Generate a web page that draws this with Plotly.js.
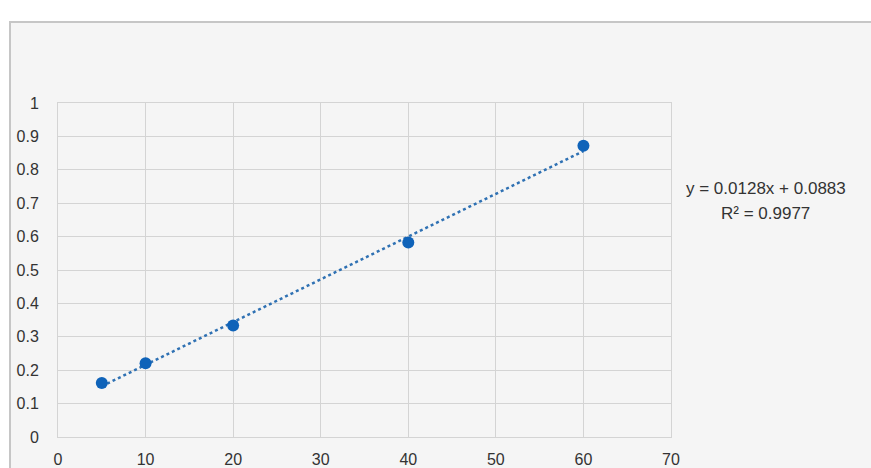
<!DOCTYPE html>
<html>
<head>
<meta charset="utf-8">
<script src="https://cdn.plot.ly/plotly-3.0.1.min.js"></script>
<style>
  html, body { margin: 0; padding: 0; background: #ffffff; overflow: hidden; }
  #frame { position: absolute; left: 9px; top: 21px; width: 860px; height: 445px;
           border-left: 2px solid #c6c6c6; border-top: 2px solid #c6c6c6; background: #f5f5f5; }
  #chart { width: 860px; height: 445px; }
</style>
</head>
<body>
<div id="frame"><div id="chart"></div></div>
<script>
// Data
const concentration = [5, 10, 20, 40, 60];
const absorbance = [0.162, 0.221, 0.334, 0.582, 0.872];
const trendX = [5, 60];
const trendY = [0.152, 0.856];
const xTicks = [0, 10, 20, 30, 40, 50, 60, 70];
const yTicks = [0, 0.1, 0.2, 0.3, 0.4, 0.5, 0.6, 0.7, 0.8, 0.9, 1];
const equationText = "y = 0.0128x + 0.0883";
const r2Text = "R² = 0.9977";

const gridColor = "#d4d4d4";
const textColor = "#333333";
const fontFamily = "Liberation Sans, Arial, sans-serif";

const traces = [
  {
    x: trendX, y: trendY, type: "scatter", mode: "lines",
    line: { color: "#2f71b3", width: 2.5, dash: "dot" },
    hoverinfo: "skip", showlegend: false
  },
  {
    x: concentration, y: absorbance, type: "scatter", mode: "markers",
    marker: { color: "#0f63b9", size: 12 },
    showlegend: false
  }
];

const layout = {
  width: 860, height: 445,
  margin: { l: 47, r: 200, t: 80, b: 31 },
  paper_bgcolor: "rgba(0,0,0,0)",
  plot_bgcolor: "#f5f5f5",
  font: { family: fontFamily, size: 16, color: textColor },
  showlegend: false,
  xaxis: {
    range: [0, 70], tickvals: xTicks, ticktext: xTicks.map(String),
    showgrid: true, gridcolor: gridColor, gridwidth: 1,
    zeroline: false, showline: true, mirror: true, linecolor: gridColor, linewidth: 1,
    ticks: "outside", ticklen: 8, tickcolor: "rgba(0,0,0,0)",
    tickfont: { family: fontFamily, size: 16, color: textColor }
  },
  yaxis: {
    range: [0, 1], tickvals: yTicks, ticktext: yTicks.map(String),
    showgrid: true, gridcolor: gridColor, gridwidth: 1,
    zeroline: false, showline: true, mirror: true, linecolor: gridColor, linewidth: 1,
    ticks: "outside", ticklen: 15, tickcolor: "rgba(0,0,0,0)",
    tickfont: { family: fontFamily, size: 16, color: textColor }
  },
  annotations: [
    { xref: "paper", yref: "paper", x: 1.1545, y: 0.744, text: equationText,
      showarrow: false, xanchor: "center", yanchor: "middle",
      font: { family: fontFamily, size: 17, color: textColor } },
    { xref: "paper", yref: "paper", x: 1.1545, y: 0.6695, text: r2Text,
      showarrow: false, xanchor: "center", yanchor: "middle",
      font: { family: fontFamily, size: 17, color: textColor } }
  ]
};

Plotly.newPlot("chart", traces, layout, { displayModeBar: false, staticPlot: true });
</script>
</body>
</html>
